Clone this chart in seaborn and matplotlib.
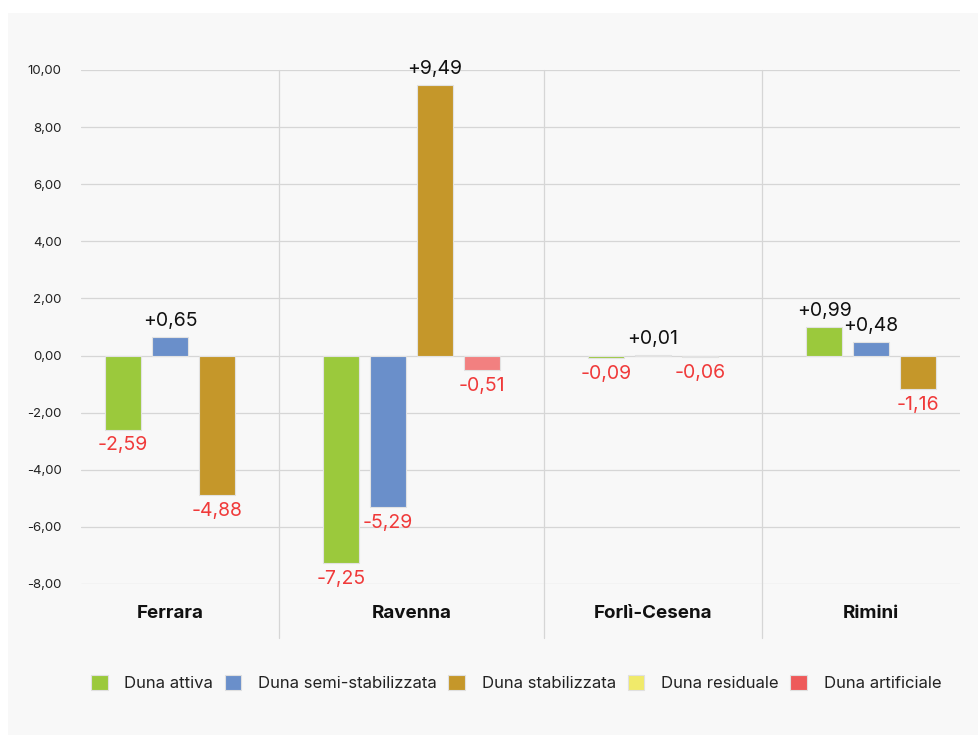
import numpy as np
import pandas as pd
import matplotlib
matplotlib.use("Agg")
import matplotlib.pyplot as plt
from matplotlib.patches import Patch, Rectangle
import seaborn as sns

# Variazione della superficie per tipologia di duna (ettari)
categories = ["Ferrara", "Ravenna", "Forlì-Cesena", "Rimini"]
series = ["Duna attiva", "Duna semi-stabilizzata", "Duna stabilizzata",
          "Duna residuale", "Duna artificiale"]
duna_attiva = [-2.59, -7.25, -0.09, 0.99]
duna_semi = [0.65, -5.29, 0.01, 0.48]
duna_stabilizzata = [-4.88, 9.49, -0.06, -1.16]
duna_residuale = [None, None, None, None]
duna_artificiale = [None, -0.51, None, None]
y_ticks = [-8, -6, -4, -2, 0, 2, 4, 6, 8, 10]

colors = ["#9bc93c", "#6a8fca", "#c5972a", "#f0ea6a", "#ee5a5a"]
bar_colors = dict(zip(series, ["#9bc93c", "#6a8fca", "#c5972a", "#f0ea6a", "#f28080"]))

values = [duna_attiva, duna_semi, duna_stabilizzata, duna_residuale, duna_artificiale]

# Each province gets one slot per available series; empty series are skipped
GAP = 2.65
MARGIN = 0.9
rows, centers, bounds = [], [], []
pos = 0.0
for ci, cat in enumerate(categories):
    start = pos
    for si, s in enumerate(series):
        v = values[si][ci]
        if v is None:
            continue
        rows.append({"pos": pos, "value": v, "series": s, "category": cat})
        pos += 1
    end = pos - 1
    centers.append((start + end) / 2)
    bounds.append((start, end))
    pos = end + GAP
df = pd.DataFrame(rows)

sns.set_theme(style="white")
plt.rcParams["font.family"] = ["Inter", "DejaVu Sans"]

fig = plt.figure(figsize=(9.79, 7.35), dpi=100)
fig.patch.set_facecolor("white")
fig.patches.append(Rectangle((8 / 979, 0), 1, 1 - 13 / 735, transform=fig.transFigure,
                             facecolor="#f8f8f8", edgecolor="none", zorder=-10))
ax = fig.add_axes([81 / 979, 1 - 584 / 735, (960 - 81) / 979, (584 - 70) / 735])
ax.set_facecolor("none")

sns.barplot(data=df, x="pos", y="value", hue="series", palette=bar_colors,
            native_scale=True, dodge=False, width=0.78, legend=False, saturation=1,
            edgecolor="#e2e2e2", linewidth=0.8, ax=ax, zorder=3)

ax.set_xlim(-MARGIN, df["pos"].max() + MARGIN)
ax.set_ylim(-8, 10)
ax.set_yticks(y_ticks)
ax.set_yticklabels([f"{t:.2f}".replace(".", ",") for t in y_ticks],
                   fontsize=9.5, color="#222222")
ax.tick_params(axis="y", length=0, pad=14)
ax.set_xticks([])
ax.set_xlabel("")
ax.set_ylabel("")
for sp in ax.spines.values():
    sp.set_visible(False)
ax.yaxis.grid(True, color="#d6d6d6", linewidth=0.9, zorder=0)
ax.set_axisbelow(True)

# Separators between provinces
for (s0, e0), (s1, e1) in zip(bounds[:-1], bounds[1:]):
    xm = (e0 + s1) / 2
    ax.plot([xm, xm], [1, -0.105], transform=ax.get_xaxis_transform(),
            color="#d6d6d6", linewidth=0.9, clip_on=False, zorder=1)

# Province labels
for c, cat in zip(centers, categories):
    ax.text(c, -0.057, cat, transform=ax.get_xaxis_transform(), ha="center",
            va="center", fontsize=13.5, fontweight="bold", color="#111111")

# Value labels
for _, r in df.iterrows():
    v = r["value"]
    txt = (f"+{v:.2f}" if v >= 0 else f"{v:.2f}").replace(".", ",")
    if v >= 0:
        ax.annotate(txt, (r["pos"], v), xytext=(0, 5), textcoords="offset points",
                    ha="center", va="bottom", fontsize=14, color="#111111")
    else:
        ax.annotate(txt, (r["pos"], v), xytext=(0, -5), textcoords="offset points",
                    ha="center", va="top", fontsize=14, color="#f03a3a")

handles = [Patch(facecolor=c, edgecolor="#e0e0e0", linewidth=0.8) for c in colors]
fig.legend(handles, series, loc="center", bbox_to_anchor=(516 / 979, 1 - 683 / 735),
           ncol=5, frameon=False, fontsize=12, handlelength=1.0, handleheight=1.0,
           handletextpad=1.0, columnspacing=0.7, labelcolor="#222222")

fig.savefig("out.png", dpi=100, facecolor=fig.get_facecolor())
